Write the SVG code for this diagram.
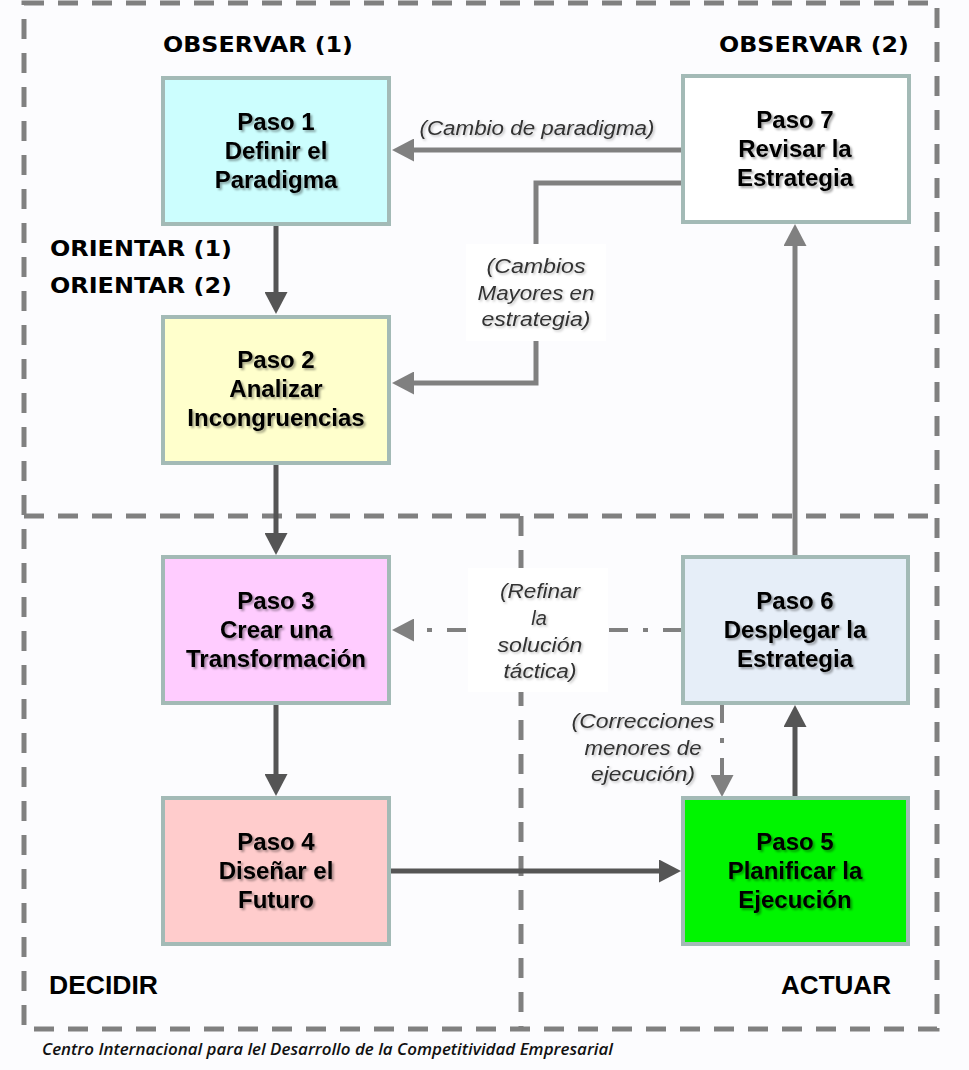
<svg xmlns="http://www.w3.org/2000/svg" width="969" height="1070" viewBox="0 0 969 1070">
<defs>
<style>
.frame{fill:none;stroke:#808080;stroke-width:5;stroke-dasharray:20 14}
.box{stroke:#a3bab6;stroke-width:4}
.bt{font-family:"Liberation Sans",Arial,sans-serif;font-weight:bold;font-size:24px;fill:#000;text-anchor:middle}
.ph{font-family:"DejaVu Sans",Verdana,sans-serif;font-weight:bold;font-size:21.5px;fill:#000}
.ph2{font-family:"Liberation Sans",Arial,sans-serif;font-weight:bold;font-size:25px;fill:#000}
.lb{font-family:"Liberation Sans",Arial,sans-serif;font-style:italic;font-size:20px;fill:#333;text-anchor:middle}
.dk{fill:none;stroke:#555555;stroke-width:5}
.gy{fill:none;stroke:#808080;stroke-width:5}
.dd{fill:none;stroke:#808080;stroke-width:4;stroke-dasharray:19 15 5 15}
.cap{font-family:"Open Sans","Liberation Sans",sans-serif;font-style:italic;font-weight:600;font-size:17px;fill:#111}
</style>
<marker id="ad" markerUnits="userSpaceOnUse" viewBox="0 0 22 23" markerWidth="22" markerHeight="23" refX="12" refY="11.5" orient="auto">
<path d="M0,0 L22,11.5 L0,23 Z" fill="#555555"/>
</marker>
<marker id="ag" markerUnits="userSpaceOnUse" viewBox="0 0 22 23" markerWidth="22" markerHeight="23" refX="12" refY="11.5" orient="auto">
<path d="M0,0 L22,11.5 L0,23 Z" fill="#808080"/>
</marker>
<filter id="sh" x="-10%" y="-20%" width="130%" height="150%">
<feDropShadow dx="2" dy="2" stdDeviation="1.2" flood-color="#000" flood-opacity="0.35"/>
</filter>
<filter id="sh2" x="-10%" y="-20%" width="130%" height="150%">
<feDropShadow dx="1.5" dy="1.5" stdDeviation="1" flood-color="#000" flood-opacity="0.25"/>
</filter>
</defs>
<rect x="0" y="0" width="969" height="1070" fill="#fcfcfe"/>

<g id="frames">
<rect class="frame" x="24" y="3" width="913" height="1026"/>
<line class="frame" x1="24" y1="516" x2="937" y2="516"/>
<line class="frame" x1="521" y1="516" x2="521" y2="1029"/>
</g>

<g id="phase-labels">
<text class="ph" x="163" y="52" textLength="190" lengthAdjust="spacingAndGlyphs">OBSERVAR (1)</text>
<text class="ph" x="719" y="52" textLength="190" lengthAdjust="spacingAndGlyphs">OBSERVAR (2)</text>
<text class="ph" x="50" y="256" textLength="182" lengthAdjust="spacingAndGlyphs">ORIENTAR (1)</text>
<text class="ph" x="50" y="293" textLength="182" lengthAdjust="spacingAndGlyphs">ORIENTAR (2)</text>
<text class="ph2" x="49" y="994" textLength="109" lengthAdjust="spacingAndGlyphs">DECIDIR</text>
<text class="ph2" x="781" y="994" textLength="110" lengthAdjust="spacingAndGlyphs">ACTUAR</text>
</g>

<g id="connectors">
<path class="dk" d="M276,225 V304" marker-end="url(#ad)"/>
<path class="dk" d="M276,464 V545" marker-end="url(#ad)"/>
<path class="dk" d="M276,704 V786" marker-end="url(#ad)"/>
<path class="dk" d="M390,871 H671" marker-end="url(#ad)"/>
<path class="dk" d="M795,797 V715" marker-end="url(#ad)"/>
<path class="gy" d="M795,556 V234" marker-end="url(#ag)"/>
<path class="gy" d="M682,150 H402" marker-end="url(#ag)"/>
<path class="gy" d="M682,183 H536 V383 H402" marker-end="url(#ag)"/>
<path class="dd" d="M682,630 H402" marker-end="url(#ag)"/>
<path class="dd" d="M722,704 V787" marker-end="url(#ag)"/>
<rect x="466" y="244" width="140" height="97" fill="#ffffff"/>
<rect x="468" y="568" width="140" height="124" fill="#ffffff"/>
<g filter="url(#sh2)">
<text class="lb" x="537" y="135" textLength="235" lengthAdjust="spacingAndGlyphs">(Cambio de paradigma)</text>
<text class="lb" x="536" y="273" textLength="99" lengthAdjust="spacingAndGlyphs">(Cambios</text>
<text class="lb" x="536" y="300" textLength="117" lengthAdjust="spacingAndGlyphs">Mayores en</text>
<text class="lb" x="536" y="326" textLength="109" lengthAdjust="spacingAndGlyphs">estrategia)</text>
<text class="lb" x="540" y="598" textLength="80" lengthAdjust="spacingAndGlyphs">(Refinar</text>
<text class="lb" x="539" y="625">la</text>
<text class="lb" x="540" y="652" textLength="85" lengthAdjust="spacingAndGlyphs">solución</text>
<text class="lb" x="540" y="678" textLength="73" lengthAdjust="spacingAndGlyphs">táctica)</text>
<text class="lb" x="643" y="728" textLength="143" lengthAdjust="spacingAndGlyphs">(Correcciones</text>
<text class="lb" x="643" y="755" textLength="117" lengthAdjust="spacingAndGlyphs">menores de</text>
<text class="lb" x="643" y="781" textLength="104" lengthAdjust="spacingAndGlyphs">ejecución)</text>
</g>
</g>

<g id="paso1">
<rect class="box" x="163" y="78" width="226" height="146" fill="#ccfefe"/>
<g filter="url(#sh)"><text class="bt" x="276" y="130">Paso 1</text><text class="bt" x="276" y="159">Definir el</text><text class="bt" x="276" y="188">Paradigma</text></g>
</g>
<g id="paso2">
<rect class="box" x="163" y="317" width="226" height="146" fill="#ffffcc"/>
<g filter="url(#sh)"><text class="bt" x="276" y="368">Paso 2</text><text class="bt" x="276" y="397">Analizar</text><text class="bt" x="276" y="426">Incongruencias</text></g>
</g>
<g id="paso3">
<rect class="box" x="163" y="557" width="226" height="146" fill="#ffccff"/>
<g filter="url(#sh)"><text class="bt" x="276" y="609">Paso 3</text><text class="bt" x="276" y="638">Crear una</text><text class="bt" x="276" y="667">Transformación</text></g>
</g>
<g id="paso4">
<rect class="box" x="163" y="798" width="226" height="146" fill="#ffcccc"/>
<g filter="url(#sh)"><text class="bt" x="276" y="850">Paso 4</text><text class="bt" x="276" y="879">Diseñar el</text><text class="bt" x="276" y="908">Futuro</text></g>
</g>
<g id="paso5">
<rect class="box" x="683" y="798" width="225" height="146" fill="#00f500"/>
<g filter="url(#sh)"><text class="bt" x="795" y="850">Paso 5</text><text class="bt" x="795" y="879">Planificar la</text><text class="bt" x="795" y="908">Ejecución</text></g>
</g>
<g id="paso6">
<rect class="box" x="683" y="557" width="225" height="146" fill="#e6eef8"/>
<g filter="url(#sh)"><text class="bt" x="795" y="609">Paso 6</text><text class="bt" x="795" y="638">Desplegar la</text><text class="bt" x="795" y="667">Estrategia</text></g>
</g>
<g id="paso7">
<rect class="box" x="683" y="76" width="226" height="146" fill="#ffffff"/>
<g filter="url(#sh)"><text class="bt" x="795" y="128">Paso 7</text><text class="bt" x="795" y="157">Revisar la</text><text class="bt" x="795" y="186">Estrategia</text></g>
</g>

<text class="cap" x="42" y="1055" textLength="571" lengthAdjust="spacingAndGlyphs">Centro Internacional para lel Desarrollo de la Competitividad Empresarial</text>
</svg>
